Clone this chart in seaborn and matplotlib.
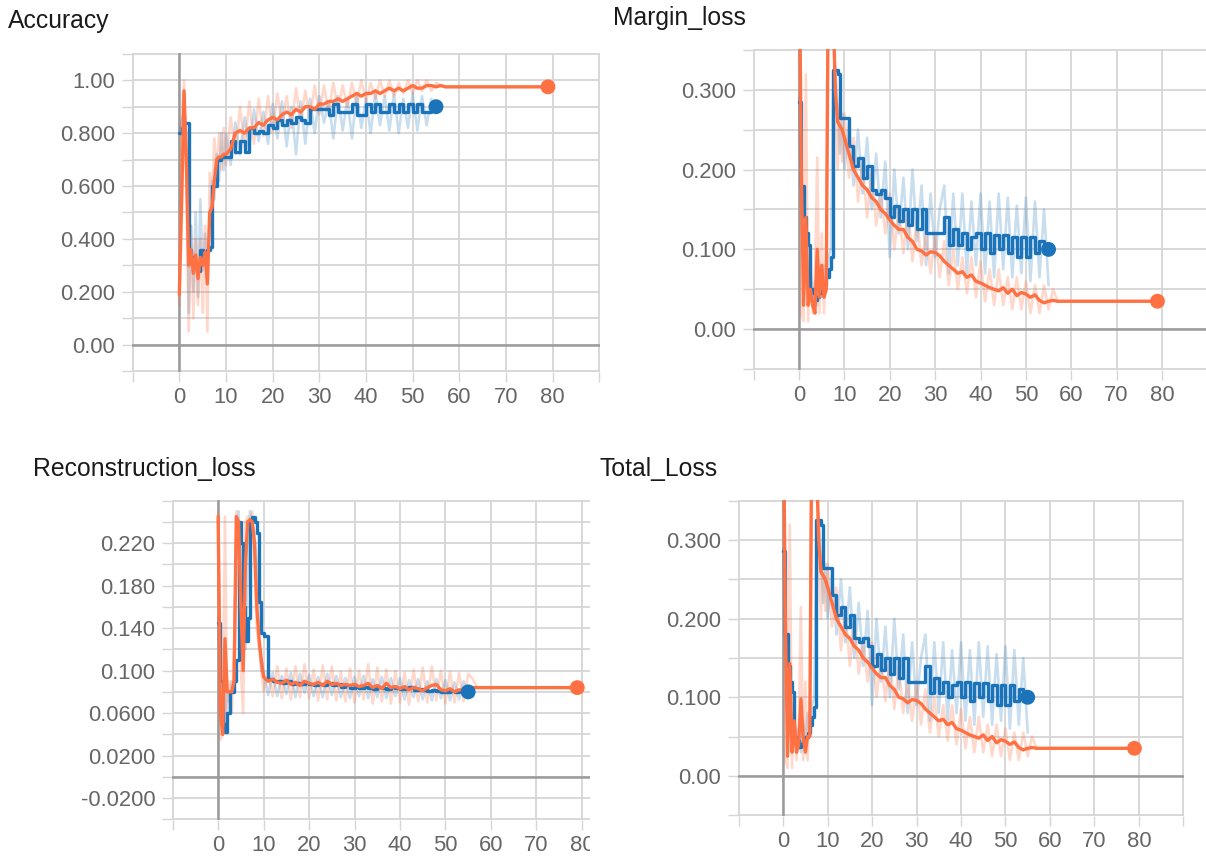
import matplotlib
matplotlib.use("Agg")
import matplotlib.pyplot as plt
import seaborn as sns
from matplotlib.transforms import Bbox

# ---------------- data ----------------
steps_blue = [0, 0.5, 1, 1.5, 2, 2.5, 3, 3.5, 4, 4.5,
              5, 5.5, 6, 6.5, 7, 7.5, 8, 8.5, 9, 9.5,
              10, 11, 12, 13, 14, 15, 16, 17, 18, 19,
              20, 21, 22, 23, 24, 25, 26, 27, 28, 29,
              30, 31, 32, 33, 34, 35, 36, 37, 38, 39,
              40, 41, 42, 43, 44, 45, 46, 47, 48, 49,
              50, 51, 52, 53, 54, 55]
steps_orange = steps_blue + [56, 57, 79]

# Accuracy
acc_blue_smooth = [0.80, 0.82, 0.84, 0.84, 0.36, 0.33, 0.31, 0.30, 0.28, 0.36,
                   0.33, 0.35, 0.36, 0.37, 0.60, 0.60, 0.70, 0.70, 0.71, 0.71,
                   0.71, 0.77, 0.73, 0.77, 0.73, 0.82, 0.80, 0.81, 0.80, 0.83,
                   0.82, 0.85, 0.83, 0.85, 0.84, 0.86, 0.85, 0.84, 0.89, 0.89,
                   0.89, 0.89, 0.87, 0.91, 0.88, 0.88, 0.88, 0.91, 0.87, 0.87,
                   0.91, 0.88, 0.91, 0.88, 0.88, 0.91, 0.88, 0.91, 0.88, 0.91,
                   0.88, 0.91, 0.88, 0.88, 0.89, 0.90]
acc_blue_raw = [0.80, 0.85, 0.88, 0.80, 0.12, 0.45, 0.20, 0.50, 0.18, 0.55,
                0.28, 0.42, 0.30, 0.45, 0.62, 0.55, 0.72, 0.62, 0.80, 0.66,
                0.80, 0.68, 0.84, 0.72, 0.86, 0.74, 0.89, 0.77, 0.88, 0.76,
                0.91, 0.78, 0.92, 0.75, 0.90, 0.72, 0.92, 0.76, 0.93, 0.80,
                0.94, 0.84, 0.92, 0.78, 0.94, 0.81, 0.93, 0.78, 0.95, 0.82,
                0.93, 0.80, 0.95, 0.83, 0.94, 0.81, 0.95, 0.80, 0.93, 0.82,
                0.95, 0.81, 0.94, 0.83, 0.93, 0.88]
acc_orange_smooth = [0.19, 0.55, 0.96, 0.70, 0.30, 0.36, 0.27, 0.34, 0.25, 0.33,
                     0.30, 0.35, 0.23, 0.50, 0.52, 0.62, 0.70, 0.71, 0.71, 0.72,
                     0.72, 0.74, 0.80, 0.81, 0.80, 0.82, 0.82, 0.84, 0.83, 0.85,
                     0.86, 0.85, 0.87, 0.88, 0.87, 0.89, 0.88, 0.90, 0.90, 0.89,
                     0.91, 0.91, 0.92, 0.92, 0.93, 0.92, 0.93, 0.94, 0.95, 0.94,
                     0.95, 0.95, 0.96, 0.95, 0.96, 0.97, 0.96, 0.97, 0.96, 0.97,
                     0.98, 0.97, 0.97, 0.98, 0.98, 0.975,
                     0.98, 0.975, 0.975]
acc_orange_raw = [0.15, 0.85, 1.00, 0.60, 0.05, 0.45, 0.10, 0.40, 0.15, 0.40,
                  0.12, 0.45, 0.05, 0.65, 0.55, 0.78, 0.65, 0.80, 0.66, 0.82,
                  0.68, 0.86, 0.72, 0.90, 0.75, 0.92, 0.76, 0.93, 0.79, 0.94,
                  0.80, 0.95, 0.83, 0.94, 0.82, 0.97, 0.85, 0.96, 0.85, 0.98,
                  0.87, 0.98, 0.88, 0.99, 0.89, 0.98, 0.90, 0.99, 0.91, 1.00,
                  0.92, 0.99, 0.93, 1.00, 0.94, 1.00, 0.94, 0.99, 0.95, 1.00,
                  0.95, 1.00, 0.96, 1.00, 0.96, 0.99,
                  0.98, 0.975, 0.975]

# Margin_loss
margin_blue_smooth = [0.285, 0.18, 0.14, 0.12, 0.105, 0.05, 0.045, 0.037, 0.04, 0.045,
                      0.05, 0.055, 0.065, 0.075, 0.09, 0.325, 0.325, 0.32, 0.265, 0.265,
                      0.265, 0.23, 0.205, 0.215, 0.19, 0.205, 0.175, 0.17, 0.175, 0.165,
                      0.14, 0.155, 0.135, 0.15, 0.13, 0.15, 0.125, 0.15, 0.12, 0.12,
                      0.12, 0.12, 0.14, 0.105, 0.125, 0.105, 0.12, 0.10, 0.115, 0.12,
                      0.10, 0.12, 0.095, 0.118, 0.10, 0.118, 0.095, 0.115, 0.09, 0.115,
                      0.09, 0.115, 0.095, 0.11, 0.095, 0.10]
margin_blue_raw = [0.29, 0.15, 0.10, 0.13, 0.05, 0.08, 0.03, 0.06, 0.03, 0.07,
                   0.04, 0.08, 0.05, 0.09, 0.10, 0.30, 0.33, 0.28, 0.22, 0.27,
                   0.20, 0.26, 0.18, 0.25, 0.17, 0.24, 0.15, 0.22, 0.14, 0.21,
                   0.09, 0.20, 0.12, 0.19, 0.10, 0.20, 0.11, 0.18, 0.08, 0.17,
                   0.09, 0.15, 0.18, 0.07, 0.17, 0.08, 0.17, 0.07, 0.16, 0.08,
                   0.17, 0.07, 0.16, 0.065, 0.17, 0.075, 0.165, 0.065, 0.155, 0.07,
                   0.165, 0.06, 0.16, 0.065, 0.15, 0.055]
margin_orange_smooth = [0.50, 0.20, 0.03, 0.14, 0.03, 0.05, 0.03, 0.02, 0.10, 0.04,
                        0.08, 0.04, 0.05, 0.50, 0.50, 0.40, 0.30, 0.26, 0.255, 0.25,
                        0.24, 0.22, 0.20, 0.19, 0.18, 0.175, 0.165, 0.16, 0.15, 0.145,
                        0.137, 0.13, 0.125, 0.125, 0.115, 0.11, 0.10, 0.098, 0.093, 0.097,
                        0.096, 0.092, 0.085, 0.08, 0.075, 0.07, 0.072, 0.065, 0.068, 0.06,
                        0.058, 0.055, 0.052, 0.05, 0.048, 0.052, 0.045, 0.05, 0.042, 0.046,
                        0.044, 0.04, 0.043, 0.036, 0.033, 0.035,
                        0.036, 0.035, 0.035]
margin_orange_raw = [0.50, 0.02, 0.01, 0.32, 0.01, 0.10, 0.02, 0.06, 0.215, 0.02,
                     0.12, 0.02, 0.10, 0.50, 0.50, 0.45, 0.28, 0.20, 0.28, 0.21,
                     0.27, 0.19, 0.24, 0.16, 0.21, 0.14, 0.20, 0.13, 0.17, 0.12,
                     0.17, 0.10, 0.15, 0.095, 0.15, 0.085, 0.14, 0.08, 0.12, 0.07,
                     0.12, 0.065, 0.11, 0.055, 0.10, 0.05, 0.09, 0.045, 0.09, 0.04,
                     0.085, 0.035, 0.075, 0.03, 0.075, 0.03, 0.065, 0.025, 0.065, 0.025,
                     0.06, 0.02, 0.055, 0.02, 0.055, 0.025,
                     0.05, 0.035, 0.035]

# Reconstruction_loss
recon_blue_smooth = [0.145, 0.09, 0.05, 0.042, 0.06, 0.08, 0.08, 0.09, 0.11, 0.24,
                     0.22, 0.16, 0.128, 0.15, 0.24, 0.245, 0.24, 0.23, 0.165, 0.135,
                     0.133, 0.092, 0.09, 0.09, 0.088, 0.09, 0.087, 0.088, 0.087, 0.088,
                     0.087, 0.086, 0.087, 0.086, 0.088, 0.086, 0.087, 0.085, 0.086, 0.084,
                     0.085, 0.084, 0.085, 0.084, 0.083, 0.085, 0.084, 0.083, 0.085, 0.084,
                     0.083, 0.084, 0.085, 0.082, 0.083, 0.082, 0.081, 0.082, 0.081, 0.080,
                     0.080, 0.081, 0.080, 0.081, 0.080, 0.080]
recon_blue_raw = [0.15, 0.06, 0.04, 0.05, 0.08, 0.07, 0.09, 0.08, 0.20, 0.25,
                  0.18, 0.13, 0.12, 0.20, 0.25, 0.24, 0.23, 0.20, 0.13, 0.10,
                  0.10, 0.077, 0.098, 0.076, 0.095, 0.078, 0.098, 0.075, 0.097, 0.079,
                  0.096, 0.076, 0.094, 0.075, 0.097, 0.077, 0.095, 0.075, 0.093, 0.074,
                  0.094, 0.076, 0.095, 0.074, 0.092, 0.075, 0.094, 0.074, 0.093, 0.076,
                  0.093, 0.073, 0.091, 0.075, 0.092, 0.073, 0.090, 0.072, 0.092, 0.074,
                  0.091, 0.072, 0.089, 0.073, 0.090, 0.078]
recon_orange_smooth = [0.245, 0.06, 0.04, 0.13, 0.08, 0.08, 0.08, 0.09, 0.245, 0.24,
                       0.16, 0.10, 0.20, 0.24, 0.242, 0.24, 0.22, 0.16, 0.13, 0.11,
                       0.094, 0.09, 0.092, 0.089, 0.088, 0.091, 0.087, 0.089, 0.086, 0.09,
                       0.088, 0.087, 0.089, 0.086, 0.09, 0.087, 0.088, 0.086, 0.087, 0.086,
                       0.087, 0.085, 0.086, 0.088, 0.084, 0.086, 0.083, 0.088, 0.084, 0.085,
                       0.083, 0.085, 0.082, 0.084, 0.083, 0.081, 0.084, 0.086, 0.087, 0.082,
                       0.081, 0.083, 0.080, 0.082, 0.081, 0.084,
                       0.084, 0.084, 0.084]
recon_orange_raw = [0.25, 0.035, 0.04, 0.245, 0.05, 0.09, 0.06, 0.12, 0.25, 0.20,
                    0.10, 0.06, 0.24, 0.245, 0.24, 0.25, 0.20, 0.14, 0.12, 0.10,
                    0.08, 0.10, 0.076, 0.104, 0.074, 0.102, 0.073, 0.104, 0.075, 0.106,
                    0.074, 0.101, 0.072, 0.105, 0.073, 0.104, 0.072, 0.099, 0.071, 0.102,
                    0.070, 0.100, 0.073, 0.106, 0.069, 0.103, 0.071, 0.101, 0.069, 0.100,
                    0.070, 0.098, 0.068, 0.101, 0.071, 0.103, 0.070, 0.104, 0.072, 0.100,
                    0.069, 0.099, 0.070, 0.098, 0.071, 0.097,
                    0.092, 0.084, 0.084]

# Total_Loss
total_blue_smooth = [0.286, 0.18, 0.14, 0.12, 0.107, 0.05, 0.045, 0.037, 0.04, 0.045,
                     0.05, 0.055, 0.065, 0.075, 0.088, 0.326, 0.326, 0.32, 0.265, 0.265,
                     0.265, 0.23, 0.205, 0.215, 0.19, 0.205, 0.175, 0.17, 0.175, 0.165,
                     0.14, 0.155, 0.135, 0.15, 0.13, 0.15, 0.125, 0.15, 0.12, 0.12,
                     0.12, 0.12, 0.14, 0.105, 0.125, 0.105, 0.12, 0.10, 0.115, 0.12,
                     0.10, 0.12, 0.095, 0.118, 0.10, 0.118, 0.095, 0.115, 0.09, 0.115,
                     0.09, 0.115, 0.095, 0.11, 0.095, 0.10]
total_blue_raw = [0.29, 0.15, 0.10, 0.13, 0.05, 0.08, 0.03, 0.06, 0.03, 0.07,
                  0.04, 0.08, 0.05, 0.09, 0.10, 0.30, 0.33, 0.28, 0.22, 0.27,
                  0.20, 0.26, 0.18, 0.25, 0.17, 0.24, 0.15, 0.22, 0.14, 0.21,
                  0.09, 0.20, 0.12, 0.19, 0.10, 0.20, 0.11, 0.18, 0.08, 0.17,
                  0.09, 0.15, 0.18, 0.07, 0.17, 0.08, 0.17, 0.07, 0.16, 0.08,
                  0.17, 0.07, 0.16, 0.065, 0.17, 0.075, 0.165, 0.065, 0.155, 0.07,
                  0.165, 0.06, 0.16, 0.065, 0.15, 0.055]
total_orange_smooth = [0.50, 0.20, 0.025, 0.143, 0.03, 0.07, 0.03, 0.04, 0.098, 0.05,
                       0.03, 0.05, 0.05, 0.50, 0.50, 0.40, 0.30, 0.26, 0.255, 0.25,
                       0.24, 0.22, 0.20, 0.19, 0.18, 0.175, 0.165, 0.16, 0.15, 0.145,
                       0.137, 0.13, 0.125, 0.125, 0.115, 0.11, 0.10, 0.098, 0.093, 0.097,
                       0.096, 0.092, 0.085, 0.08, 0.075, 0.07, 0.072, 0.065, 0.068, 0.06,
                       0.058, 0.055, 0.052, 0.05, 0.048, 0.052, 0.045, 0.05, 0.042, 0.046,
                       0.044, 0.04, 0.043, 0.036, 0.033, 0.035,
                       0.036, 0.035, 0.035]
total_orange_raw = [0.50, 0.02, 0.01, 0.32, 0.01, 0.10, 0.02, 0.06, 0.215, 0.02,
                    0.12, 0.02, 0.10, 0.50, 0.50, 0.45, 0.28, 0.20, 0.28, 0.21,
                    0.27, 0.19, 0.24, 0.16, 0.21, 0.14, 0.20, 0.13, 0.17, 0.12,
                    0.17, 0.10, 0.15, 0.095, 0.15, 0.085, 0.14, 0.08, 0.12, 0.07,
                    0.12, 0.065, 0.11, 0.055, 0.10, 0.05, 0.09, 0.045, 0.09, 0.04,
                    0.085, 0.035, 0.075, 0.03, 0.075, 0.03, 0.065, 0.025, 0.065, 0.025,
                    0.06, 0.02, 0.055, 0.02, 0.055, 0.025,
                    0.05, 0.035, 0.035]

# tick positions / labels
x_tick_values = [-10, 0, 10, 20, 30, 40, 50, 60, 70, 80, 90]
x_tick_labels = ["", "0", "10", "20", "30", "40", "50", "60", "70", "80", ""]

acc_ytick_values = [-0.1, 0.0, 0.1, 0.2, 0.3, 0.4, 0.5, 0.6, 0.7, 0.8, 0.9, 1.0, 1.1]
acc_ytick_labels = ["", "0.00", "", "0.200", "", "0.400", "", "0.600", "", "0.800", "", "1.00", ""]

loss_ytick_values = [-0.05, 0.0, 0.05, 0.10, 0.15, 0.20, 0.25, 0.30, 0.35]
loss_ytick_labels = ["", "0.00", "", "0.100", "", "0.200", "", "0.300", ""]

recon_ytick_values = [-0.04, -0.02, 0.0, 0.02, 0.04, 0.06, 0.08, 0.10, 0.12,
                      0.14, 0.16, 0.18, 0.20, 0.22, 0.24, 0.26]
recon_ytick_labels = ["", "-0.0200", "", "0.0200", "", "0.0600", "", "0.100", "",
                      "0.140", "", "0.180", "", "0.220", "", ""]

titles = ["Accuracy", "Margin_loss", "Reconstruction_loss", "Total_Loss"]

# ---------------- styling ----------------
W, H = 1206, 859
sns.set_theme(style="white")
plt.rcParams['font.family'] = ['Liberation Sans', 'DejaVu Sans']

BLUE = "#1b74ba"
ORANGE = "#ff7043"
GRID = "#d6d6d6"
ZERO = "#9a9a9a"
TICKC = "#666666"

fig = plt.figure(figsize=(W / 100, H / 100), dpi=100)


def make_axes(l, t, r, b):
    return fig.add_axes([l / W, 1 - b / H, (r - l) / W, (b - t) / H])


panels = [
    dict(title=titles[0], tpos=(8, 21), box=(132, 53, 600, 372),
         xlim=(-10.15, 90.15), ylim=(-0.103, 1.103),
         yv=acc_ytick_values, yl=acc_ytick_labels,
         series=(acc_blue_smooth, acc_blue_raw, acc_orange_smooth, acc_orange_raw)),
    dict(title=titles[1], tpos=(613, 18), box=(753, 49, 1206, 370),
         xlim=(-10.15, 89.7), ylim=(-0.0512, 0.3512),
         yv=loss_ytick_values, yl=loss_ytick_labels,
         series=(margin_blue_smooth, margin_blue_raw, margin_orange_smooth, margin_orange_raw)),
    dict(title=titles[2], tpos=(33, 469), box=(172, 500, 590, 820),
         xlim=(-10.15, 81.8), ylim=(-0.0406, 0.2606),
         yv=recon_ytick_values, yl=recon_ytick_labels,
         series=(recon_blue_smooth, recon_blue_raw, recon_orange_smooth, recon_orange_raw)),
    dict(title=titles[3], tpos=(600, 469), box=(738, 500, 1184, 816),
         xlim=(-10.15, 90.15), ylim=(-0.0512, 0.3512),
         yv=loss_ytick_values, yl=loss_ytick_labels,
         series=(total_blue_smooth, total_blue_raw, total_orange_smooth, total_orange_raw)),
]

for p in panels:
    ax = make_axes(*p["box"])
    b_s, b_r, o_s, o_r = p["series"]

    ax.axhline(0, color=ZERO, lw=1.8, zorder=1.2)
    ax.axvline(0, color=ZERO, lw=1.8, zorder=1.2)

    sns.lineplot(x=steps_blue, y=b_r, ax=ax, color=BLUE, alpha=0.24, lw=1.9,
                 estimator=None, sort=False, legend=False, zorder=2)
    sns.lineplot(x=steps_orange, y=o_r, ax=ax, color=ORANGE, alpha=0.27, lw=1.9,
                 estimator=None, sort=False, legend=False, zorder=2.1)
    sns.lineplot(x=steps_blue, y=b_s, ax=ax, color=BLUE, lw=2.4,
                 drawstyle="steps-post", estimator=None, sort=False,
                 legend=False, zorder=3)
    sns.lineplot(x=steps_orange, y=o_s, ax=ax, color=ORANGE, lw=2.4,
                 estimator=None, sort=False, legend=False, zorder=3.1)
    sns.scatterplot(x=[steps_blue[-1]], y=[b_s[-1]], ax=ax, color=BLUE, s=115,
                    edgecolor="none", legend=False, zorder=4)
    sns.scatterplot(x=[steps_orange[-1]], y=[o_s[-1]], ax=ax, color=ORANGE, s=115,
                    edgecolor="none", legend=False, zorder=4)

    ax.set_xticks(x_tick_values)
    ax.set_xticklabels(x_tick_labels)
    ax.set_yticks(p["yv"])
    ax.set_yticklabels(p["yl"])
    ax.set_xlim(*p["xlim"])
    ax.set_ylim(*p["ylim"])
    ax.set_xlabel("")
    ax.set_ylabel("")

    for s in ax.spines.values():
        s.set_visible(False)
    ax.grid(True, color=GRID, lw=1.3)
    ax.set_axisbelow(True)
    ax.tick_params(axis="both", which="major", bottom=True, left=True,
                   length=7, width=1.0, color=GRID, labelcolor=TICKC,
                   labelsize=15.8, direction="out")
    ax.tick_params(axis="x", pad=3.5)
    ax.tick_params(axis="y", pad=5)

    fig.text(p["tpos"][0] / W, 1 - p["tpos"][1] / H, p["title"], fontsize=17.8,
             color="#1a1a1a", ha="left", va="center")

    if p["title"] == "Reconstruction_loss":
        clip = Bbox.from_extents(0, 0, 590, H)
        for lab in ax.get_xticklabels():
            lab.set_clip_on(True)
            lab.set_clip_box(clip)

fig.savefig("out.png", dpi=100, facecolor="white")
